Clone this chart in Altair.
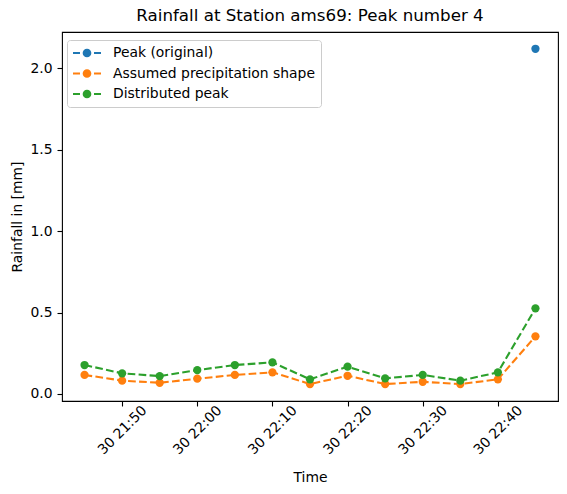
import altair as alt
import pandas as pd

# 5-minute rainfall around peak number 4 at station ams69
times = [
    "2023-01-30T21:45:00Z", "2023-01-30T21:50:00Z", "2023-01-30T21:55:00Z",
    "2023-01-30T22:00:00Z", "2023-01-30T22:05:00Z", "2023-01-30T22:10:00Z",
    "2023-01-30T22:15:00Z", "2023-01-30T22:20:00Z", "2023-01-30T22:25:00Z",
    "2023-01-30T22:30:00Z", "2023-01-30T22:35:00Z", "2023-01-30T22:40:00Z",
    "2023-01-30T22:45:00Z",
]
shape_values = [0.117, 0.082, 0.069, 0.094, 0.117, 0.133, 0.061, 0.112,
                0.061, 0.075, 0.061, 0.090, 0.354]
distributed_values = [0.178, 0.127, 0.110, 0.147, 0.178, 0.194, 0.090, 0.168,
                      0.096, 0.117, 0.082, 0.133, 0.526]
peak_times = ["2023-01-30T22:45:00Z"]
peak_values = [2.12]

series_names = ["Peak (original)", "Assumed precipitation shape", "Distributed peak"]
series_colors = ["#1f77b4", "#ff7f0e", "#2ca02c"]

rows = []
for t, v in zip(peak_times, peak_values):
    rows.append({"time": t, "rain": v, "series": series_names[0]})
for t, v in zip(times, shape_values):
    rows.append({"time": t, "rain": v, "series": series_names[1]})
for t, v in zip(times, distributed_values):
    rows.append({"time": t, "rain": v, "series": series_names[2]})
df = pd.DataFrame(rows)

FONT = "DejaVu Sans"


def dt(h, m):
    return alt.DateTime(year=2023, month=1, date=30, hours=h, minutes=m, utc=True)


tick_values = [dt(21, 50), dt(22, 0), dt(22, 10), dt(22, 20), dt(22, 30), dt(22, 40)]

x_enc = alt.X(
    "time:T",
    scale=alt.Scale(type="utc", domain=[dt(21, 42), dt(22, 48)]),
    axis=alt.Axis(
        title="Time", values=tick_values,
        labelExpr="utcFormat(datum.value, '%d %H:%M')",
        labelAngle=315, labelAlign="center", labelBaseline="middle",
        labelPadding=24, titleY=76, titleBaseline="middle",
    ),
)
y_enc = alt.Y(
    "rain:Q",
    scale=alt.Scale(domain=[-0.043, 2.223], zero=False, nice=False),
    axis=alt.Axis(
        title="Rainfall in [mm]", values=[0, 0.5, 1.0, 1.5, 2.0], format=".1f",
        titleX=-45, titleBaseline="middle",
    ),
)

# legend handle: dash, marker, dash (path units scaled by 7 px)
handle = ("M-2,-0.15H-1V0.15H-2Z M1,-0.15H2V0.15H1Z "
          "M0.62,0A0.62,0.62,0,1,1,-0.62,0A0.62,0.62,0,1,1,0.62,0Z")

color_scale = alt.Scale(domain=series_names, range=series_colors)
legend = alt.Legend(
    title=None, orient="none", legendX=5, legendY=8,
    symbolType=handle, symbolSize=196, symbolOffset=7,
    symbolStrokeWidth=0, symbolOpacity=1,
    labelFontSize=13.9, labelFont=FONT, labelColor="black", labelOffset=19,
    labelLimit=400, rowPadding=6.5, padding=6,
    fillColor="rgba(255,255,255,0.8)", strokeColor="#cccccc", cornerRadius=3,
)

layers = []
for i, name in enumerate(series_names):
    base = alt.Chart(df).transform_filter(alt.datum.series == name)
    line = base.mark_line(strokeWidth=2.08, strokeDash=[7.7, 3.3]).encode(
        x=x_enc, y=y_enc, color=alt.value(series_colors[i]),
    )
    pts = base.mark_point(filled=True, size=68, opacity=1, shape="circle").encode(
        x=x_enc, y=y_enc,
        color=alt.Color("series:N", scale=color_scale, legend=legend),
    )
    layers += [line, pts]

chart = alt.layer(*layers).properties(
    width=496, height=369,
    title=alt.TitleParams(
        "Rainfall at Station ams69: Peak number 4", font=FONT, fontSize=16.7,
        fontWeight="normal", color="black", anchor="middle",
        baseline="alphabetic", offset=8, dy=14,
    ),
    autosize=alt.AutoSizeParams(type="none"),
    padding={"left": 62, "top": 32, "right": 9, "bottom": 93},
).configure(
    background="white",
).configure_view(
    stroke="black", strokeWidth=1.1,
).configure_axis(
    grid=False, domain=False, tickColor="black", tickWidth=1.1, tickSize=5,
    labelFont=FONT, labelFontSize=13.9, labelColor="black", labelPadding=5,
    titleFont=FONT, titleFontSize=13.9, titleColor="black", titleFontWeight="normal",
)

chart.save("out.html", embed_options={"renderer": "svg", "actions": False})
